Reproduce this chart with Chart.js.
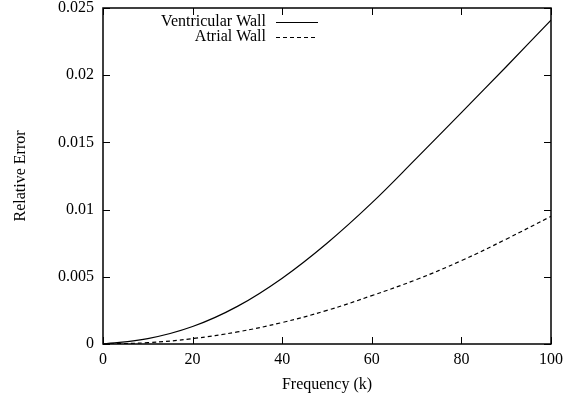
<!DOCTYPE html>
<html>
<head>
<meta charset="utf-8">
<script src="https://cdn.jsdelivr.net/npm/chart.js@4/dist/chart.umd.min.js"></script>
<style>
html,body{margin:0;padding:0;background:#fff;}
#wrap{width:586px;height:403px;}
</style>
</head>
<body>
<div id="wrap"><canvas id="errChart" width="586" height="403"></canvas></div>
<script>
// frequency (k) sample points
const freq = [0, 10, 20, 30, 40, 50, 60, 70, 80, 90, 100];
// relative error
const ventricular = [0, 0.0004, 0.0013, 0.0028, 0.0049, 0.0075, 0.0105, 0.01383, 0.01722, 0.02063, 0.0241];
const atrial = [0, 0.0001, 0.0004, 0.0009, 0.0016, 0.0025, 0.0036, 0.0048, 0.0062, 0.0078, 0.0095];
const xTicks = [0, 20, 40, 60, 80, 100];
const yTicks = [0, 0.005, 0.01, 0.015, 0.02, 0.025];

const serif = "'Liberation Serif', 'DejaVu Serif', serif";
const fontSize = 16;

function toPoints(ys){
  return freq.map((x,i) => ({x:x, y:ys[i]}));
}

// box + inward mirrored ticks + gnuplot style legend
const gnuFrame = {
  id:"gnuFrame",
  afterDatasetsDraw(chart){
    const ctx = chart.ctx, a = chart.chartArea;
    const xs = chart.scales.x, ys = chart.scales.y;
    ctx.save();
    ctx.strokeStyle = "#000";
    ctx.lineWidth = 1;
    ctx.beginPath();
    xTicks.forEach(v => {
      const px = Math.round(xs.getPixelForValue(v)) + 0.5;
      ctx.moveTo(px, a.bottom); ctx.lineTo(px, a.bottom - 7);
      ctx.moveTo(px, a.top); ctx.lineTo(px, a.top + 7);
    });
    yTicks.forEach(v => {
      const py = Math.round(ys.getPixelForValue(v)) + 0.5;
      ctx.moveTo(a.left, py); ctx.lineTo(a.left + 7, py);
      ctx.moveTo(a.right, py); ctx.lineTo(a.right - 7, py);
    });
    ctx.stroke();
    ctx.lineWidth = 1.5;
    ctx.strokeRect(a.left, a.top, a.right - a.left, a.bottom - a.top);

    // legend
    ctx.font = fontSize + "px " + serif;
    ctx.fillStyle = "#000";
    ctx.textAlign = "right";
    ctx.textBaseline = "middle";
    chart.data.datasets.forEach((ds, i) => {
      const y = 22 + i * 15;
      ctx.fillText(ds.label, 266, y);
      ctx.lineWidth = 1;
      ctx.setLineDash(ds.borderDash || []);
      ctx.beginPath();
      ctx.moveTo(276, y + 0.5);
      ctx.lineTo(318, y + 0.5);
      ctx.stroke();
    });
    ctx.restore();
  }
};

new Chart(document.getElementById("errChart"), {
  type:"line",
  data:{
    datasets:[
      {label:"Ventricular Wall", data:toPoints(ventricular), borderColor:"#000", borderWidth:1.2, pointRadius:0, tension:0.4, fill:false},
      {label:"Atrial Wall", data:toPoints(atrial), borderColor:"#000", borderWidth:1.2, borderDash:[4,3], pointRadius:0, tension:0.4, fill:false}
    ]
  },
  options:{
    responsive:false,
    animation:false,
    layout:{padding:{top:8, right:35, left:0, bottom:0}},
    plugins:{legend:{display:false}, tooltip:{enabled:false}},
    scales:{
      x:{
        type:"linear", min:0, max:100,
        afterBuildTicks: s => { s.ticks = xTicks.map(v => ({value:v})); },
        afterFit: s => { s.height = 59; s.paddingLeft = 0; s.paddingRight = 0; },
        grid:{display:false, drawTicks:false},
        border:{display:false},
        ticks:{color:"#000", font:{family:serif, size:fontSize}, padding:6, maxRotation:0},
        title:{display:true, text:"Frequency (k)", color:"#000", font:{family:serif, size:fontSize}, padding:{top:0, bottom:9}}
      },
      y:{
        type:"linear", min:0, max:0.025,
        afterBuildTicks: s => { s.ticks = yTicks.map(v => ({value:v})); },
        afterFit: s => { s.width = 103; s.paddingTop = 0; s.paddingBottom = 0; },
        grid:{display:false, drawTicks:false},
        border:{display:false},
        ticks:{color:"#000", font:{family:serif, size:fontSize}, padding:9, callback: v => String(+v.toFixed(4))},
        title:{display:true, text:"Relative Error", color:"#000", font:{family:serif, size:fontSize}, padding:{top:11, bottom:0}}
      }
    }
  },
  plugins:[gnuFrame]
});
</script>
</body>
</html>
